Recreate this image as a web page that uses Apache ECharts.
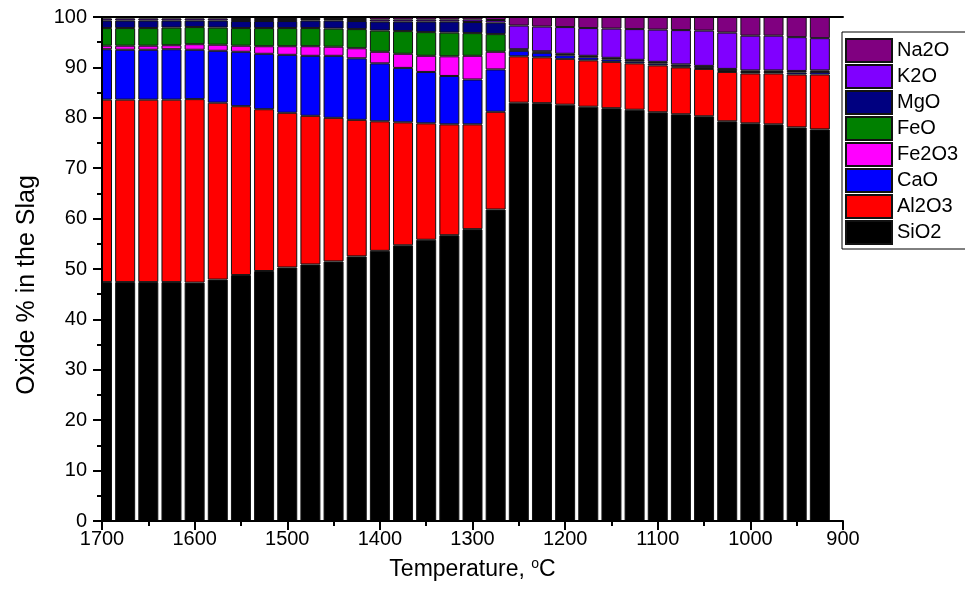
<!DOCTYPE html>
<html>
<head>
<meta charset="utf-8">
<script src="https://cdn.jsdelivr.net/npm/echarts@6/dist/echarts.min.js"></script>
<style>
  html, body { margin: 0; padding: 0; background: #fff; }
  #chart { width: 965px; height: 604px; }
</style>
</head>
<body>
<div id="chart"></div>
<script>
// Slag composition (wt %) against temperature, stacked from SiO2 upward
const temperatures = [1700, 1675, 1650, 1625, 1600, 1575, 1550, 1525, 1500, 1475, 1450, 1425,
  1400, 1375, 1350, 1325, 1300, 1275, 1250, 1225, 1200, 1175, 1150, 1125, 1100, 1075, 1050,
  1025, 1000, 975, 950, 925];

const sio2  = [47.4, 47.4, 47.4, 47.4, 47.3, 47.9, 48.8, 49.6, 50.3, 50.9, 51.5, 52.5,
  53.6, 54.7, 55.8, 56.7, 57.9, 61.8, 83.0, 82.9, 82.6, 82.2, 81.9, 81.6, 81.1, 80.7, 80.3,
  79.3, 78.9, 78.7, 78.1, 77.7];
const al2o3 = [36.2, 36.2, 36.2, 36.2, 36.4, 35.1, 33.5, 32.1, 30.7, 29.5, 28.5, 27.1,
  25.7, 24.4, 23.1, 22.0, 20.8, 19.4, 9.2, 9.1, 9.1, 9.2, 9.2, 9.2, 9.3, 9.3, 9.4,
  9.8, 9.9, 10.1, 10.5, 10.9];
const cao   = [10.0, 9.9, 9.9, 10.0, 9.8, 10.3, 10.8, 11.0, 11.5, 11.9, 12.3, 12.2,
  11.5, 10.8, 10.2, 9.6, 8.9, 8.4, 1.1, 0.9, 0.7, 0.6, 0.5, 0.4, 0.4, 0.2, 0.2,
  0.2, 0.3, 0.3, 0.4, 0.5];
const fe2o3 = [0.7, 0.8, 0.8, 0.8, 1.1, 1.2, 1.2, 1.5, 1.7, 1.9, 1.8, 2.0,
  2.3, 2.8, 3.2, 3.9, 4.7, 3.5, null, null, null, null, null, null, null, null, null,
  null, null, null, null, null];
const feo   = [3.5, 3.5, 3.5, 3.5, 3.4, 3.4, 3.5, 3.6, 3.6, 3.6, 3.6, 3.8,
  4.2, 4.5, 4.7, 4.7, 4.5, 3.5, null, null, null, null, null, null, null, null, null,
  null, null, null, null, null];
const mgo   = [1.5, 1.5, 1.5, 1.4, 1.3, 1.4, 1.4, 1.4, 1.4, 1.5, 1.6, 1.6,
  1.8, 1.9, 2.1, 2.2, 2.2, 2.3, 0.3, 0.3, 0.3, 0.3, 0.3, 0.3, 0.3, 0.4, 0.4,
  0.4, 0.3, 0.3, 0.3, 0.3];
const k2o   = [0.4, 0.4, 0.4, 0.4, 0.4, 0.4, 0.4, 0.4, 0.4, 0.3, 0.3, 0.4,
  0.4, 0.4, 0.4, 0.4, 0.5, 0.5, 4.7, 4.9, 5.3, 5.5, 5.8, 6.1, 6.4, 6.8, 7.0,
  7.2, 6.9, 6.9, 6.7, 6.4];
const na2o  = [0.3, 0.3, 0.3, 0.3, 0.3, 0.3, 0.4, 0.4, 0.4, 0.4, 0.4, 0.4,
  0.5, 0.5, 0.5, 0.5, 0.5, 0.6, 1.7, 1.9, 2.0, 2.2, 2.3, 2.4, 2.5, 2.6, 2.7,
  3.1, 3.7, 3.7, 4.0, 4.2];

const xTicks = { min: 900, max: 1700, step: 100 };
const yTicks = { min: 0, max: 100, step: 10 };

const oxides = [
  { name: 'SiO2',  values: sio2,  color: '#000000' },
  { name: 'Al2O3', values: al2o3, color: '#ff0000' },
  { name: 'CaO',   values: cao,   color: '#0000ff' },
  { name: 'Fe2O3', values: fe2o3, color: '#ff00ff' },
  { name: 'FeO',   values: feo,   color: '#008000' },
  { name: 'MgO',   values: mgo,   color: '#000080' },
  { name: 'K2O',   values: k2o,   color: '#8000ff' },
  { name: 'Na2O',  values: na2o,  color: '#800080' }
];

const FONT = '"Liberation Sans", Arial, Helvetica, sans-serif';
const axisLineStyle = { color: '#000', width: 2 };
const GRID = { left: 102, right: 122, top: 17, bottom: 83 };

const chart = echarts.init(document.getElementById('chart'), null, { renderer: 'canvas' });

chart.setOption({
  backgroundColor: '#ffffff',
  animation: false,
  textStyle: { fontFamily: FONT, color: '#000' },
  grid: Object.assign({ containLabel: false }, GRID),
  // white strip left of the y axis: the half of the 1700 bar outside the plot is not shown
  graphic: [{
    type: 'rect',
    left: GRID.left - 18,
    top: GRID.top - 2,
    shape: { width: 17, height: 604 - GRID.top - GRID.bottom + 2 },
    style: { fill: '#ffffff' },
    z: 5,
    silent: true
  }],
  legend: {
    orient: 'vertical',
    left: 842,
    top: 32,
    data: oxides.map(o => o.name).reverse(),
    icon: 'rect',
    itemWidth: 46,
    itemHeight: 23,
    itemGap: 1,
    padding: [6, 20, 4, 3],
    backgroundColor: '#fff',
    borderColor: '#000',
    borderWidth: 1,
    z: 20,
    textStyle: { fontSize: 20, lineHeight: 20, color: '#000', fontFamily: FONT }
  },
  xAxis: [
    {
      type: 'value',
      min: xTicks.min,
      max: xTicks.max,
      interval: xTicks.step,
      inverse: true,
      z: 10,
      name: 'Temperature, {sup|o}C',
      nameLocation: 'middle',
      nameGap: 36,
      nameTextStyle: {
        fontSize: 23, color: '#000', fontFamily: FONT,
        rich: { sup: { fontSize: 14, verticalAlign: 'top', padding: [0, 0, 11, 0], fontFamily: FONT } }
      },
      axisLine: { show: true, onZero: false, lineStyle: axisLineStyle },
      axisTick: { show: true, length: 9, lineStyle: axisLineStyle },
      minorTick: { show: true, splitNumber: 2, length: 5, lineStyle: axisLineStyle },
      axisLabel: { fontSize: 20, color: '#000', margin: 8, fontFamily: FONT, formatter: v => String(v) },
      splitLine: { show: false }
    },
    {
      type: 'value',
      position: 'top',
      min: xTicks.min,
      max: xTicks.max,
      inverse: true,
      z: 10,
      axisLine: { show: true, onZero: false, lineStyle: axisLineStyle },
      axisTick: { show: false },
      axisLabel: { show: false },
      splitLine: { show: false }
    }
  ],
  yAxis: {
    type: 'value',
    min: yTicks.min,
    max: yTicks.max,
    interval: yTicks.step,
    z: 10,
    name: 'Oxide % in the Slag',
    nameLocation: 'middle',
    nameGap: 62,
    nameTextStyle: { fontSize: 25, color: '#000', fontFamily: FONT, padding: [0, 32, 0, 0] },
    axisLine: { show: true, onZero: false, lineStyle: axisLineStyle },
    axisTick: { show: true, length: 9, lineStyle: axisLineStyle },
    minorTick: { show: true, splitNumber: 2, length: 5, lineStyle: axisLineStyle },
    axisLabel: { fontSize: 20, color: '#000', margin: 15, fontFamily: FONT },
    splitLine: { show: false }
  },
  // value first so that the stack accumulates along the y axis
  series: oxides.map(o => ({
    name: o.name,
    type: 'bar',
    stack: 'slag',
    xAxisIndex: 0,
    encode: { x: 1, y: 0 },
    barWidth: 20,
    itemStyle: { color: o.color, borderColor: '#111', borderWidth: 1 },
    emphasis: { disabled: true },
    data: temperatures.map((t, i) => [o.values[i] == null ? '-' : o.values[i], t])
  }))
});
</script>
</body>
</html>
